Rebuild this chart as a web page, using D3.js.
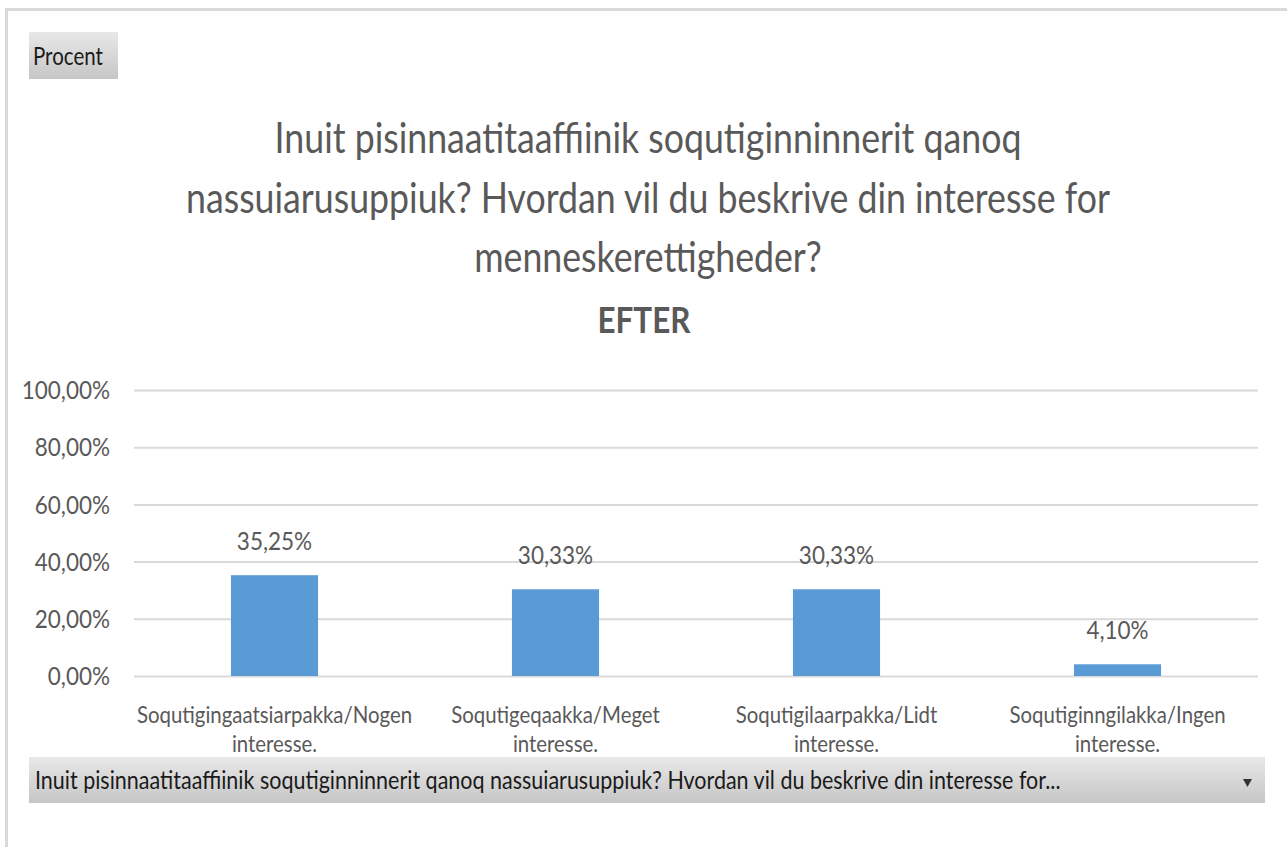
<!DOCTYPE html>
<html>
<head>
<meta charset="utf-8">
<title>EFTER</title>
<style>
  body { margin: 0; background: #fff; }
  text { font-family: Lato, "Open Sans", sans-serif; }
</style>
</head>
<body>
<div id="chart"></div>
<script src="https://d3js.org/d3.v7.min.js"></script>
<script>
// chart values
var categories = [
    ["Soqutigingaatsiarpakka/Nogen", "interesse."],
    ["Soqutigeqaakka/Meget", "interesse."],
    ["Soqutigilaarpakka/Lidt", "interesse."],
    ["Soqutiginngilakka/Ingen", "interesse."]
];
var values = [35.25, 30.33, 30.33, 4.10];
var yTicks = [0, 20, 40, 60, 80, 100];
var titleLines = [
    "Inuit pisinnaatitaaffiinik soqutiginninnerit qanoq",
    "nassuiarusuppiuk? Hvordan vil du beskrive din interesse for",
    "menneskerettigheder?"
];
var subTitle = "EFTER";
var filterText = "Inuit pisinnaatitaaffiinik soqutiginninnerit qanoq nassuiarusuppiuk? Hvordan vil du beskrive din interesse for...";

var width = 1287, height = 847;
var sx = 0.85; // text is drawn narrow like the original
var sxNum = 0.9;
var grey = "#595959";

var svg = d3.select("#chart").append("svg")
    .attr("width", width).attr("height", height);

var defs = svg.append("defs");
var grad = defs.append("linearGradient").attr("id", "btn")
    .attr("x1", 0).attr("y1", 0).attr("x2", 0).attr("y2", 1);
grad.append("stop").attr("offset", "0%").attr("stop-color", "#e8e8e8");
grad.append("stop").attr("offset", "100%").attr("stop-color", "#c6c6c6");

// outer frame
svg.append("rect")
    .attr("x", 6.5).attr("y", 9.5)
    .attr("width", width + 10).attr("height", height + 10)
    .attr("fill", "none").attr("stroke", "#d9d9d9").attr("stroke-width", 3);

function label(parent, x, y, str, size, anchor, color, weight, scx) {
    return parent.append("text")
        .attr("transform", "translate(" + x + "," + y + ") scale(" + (scx || sx) + ",1)")
        .attr("text-anchor", anchor || "middle")
        .style("font-size", size + "px")
        .style("font-weight", weight || "normal")
        .attr("fill", color || grey)
        .text(str);
}

// "Procent" field button
svg.append("rect").attr("x", 29).attr("y", 32).attr("width", 89).attr("height", 47)
    .attr("fill", "url(#btn)");
label(svg, 33, 65, "Procent", 25, "start", "#1a1a1a", "normal", 0.82);

// titles
titleLines.forEach(function(t, i) {
    label(svg, 648, 153 + i * 59.5, t, 42);
});
label(svg, 644, 333, subTitle, 37, "middle", grey, "bold");

// plot
var plotLeft = 134, plotRight = 1258, plotTop = 390, plotBottom = 676;
var x = d3.scaleBand()
    .domain(d3.range(categories.length))
    .range([plotLeft, plotRight])
    .paddingInner(0.69)
    .paddingOuter(0.345);
var y = d3.scaleLinear().domain([0, 100]).range([plotBottom, plotTop]);

var yAxis = svg.append("g")
    .attr("transform", "translate(" + plotLeft + ",0)")
    .call(d3.axisLeft(y).tickValues(yTicks).tickSize(-(plotRight - plotLeft)).tickPadding(24)
        .tickFormat(function(d) { return d.toFixed(2).replace(".", ",") + "%"; }));
yAxis.select(".domain").remove();
yAxis.selectAll("line").attr("stroke", "#d9d9d9").attr("stroke-width", 2);
yAxis.selectAll("text")
    .attr("fill", grey)
    .style("font-size", "25px")
    .attr("dy", "0.35em")
    .attr("transform", "scale(" + sxNum + ",1)")
    .attr("x", -24 / sxNum);

svg.append("g").selectAll("rect")
    .data(values)
    .enter().append("rect")
    .attr("x", function(d, i) { return x(i); })
    .attr("y", function(d) { return y(d); })
    .attr("width", x.bandwidth())
    .attr("height", function(d) { return y(0) - y(d); })
    .attr("fill", "#5b9bd5");

values.forEach(function(v, i) {
    var cx = x(i) + x.bandwidth() / 2;
    label(svg, cx, y(v) - 25, v.toFixed(2).replace(".", ",") + "%", 25, "middle", grey, "normal", sxNum);
    label(svg, cx, 723, categories[i][0], 24);
    label(svg, cx, 752, categories[i][1], 24);
});

// bottom filter field
svg.append("rect").attr("x", 29).attr("y", 757).attr("width", 1236).attr("height", 46)
    .attr("fill", "url(#btn)");
label(svg, 35, 789, filterText, 25, "start", "#1a1a1a", "normal", 0.86);
svg.append("path")
    .attr("d", "M1243,779 L1252,779 L1247.5,787 Z")
    .attr("fill", "#333");
</script>
</body>
</html>
